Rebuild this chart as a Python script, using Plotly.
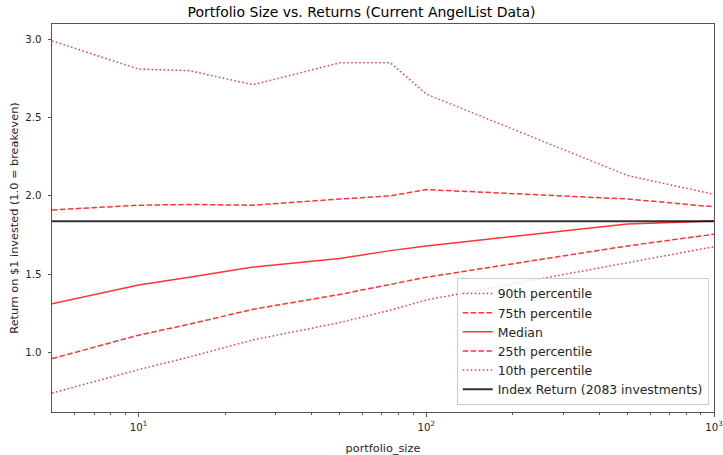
import plotly.graph_objects as go

portfolio_size = [5, 10, 15, 25, 50, 75, 100, 500, 1000]
p90 = [2.99, 2.81, 2.80, 2.71, 2.85, 2.85, 2.65, 2.13, 2.01]
p75 = [1.91, 1.94, 1.945, 1.94, 1.98, 2.00, 2.04, 1.98, 1.93]
median = [1.31, 1.43, 1.48, 1.545, 1.60, 1.65, 1.68, 1.82, 1.84]
p25 = [0.96, 1.11, 1.18, 1.275, 1.37, 1.435, 1.48, 1.68, 1.755]
p10 = [0.74, 0.89, 0.97, 1.08, 1.19, 1.27, 1.335, 1.575, 1.675]
index_return = 1.838
index_label = "Index Return (2083 investments)"

x_tickvals = [10, 100, 1000]
x_ticktext = ["10<sup>1</sup>", "10<sup>2</sup>", "10<sup>3</sup>"]
x_minor_vals = [6, 7, 8, 9, 20, 30, 40, 50, 60, 70, 80, 90,
                200, 300, 400, 500, 600, 700, 800, 900]
y_tickvals = [1.0, 1.5, 2.0, 2.5, 3.0]

series = [
    ("90th percentile", p90, "1.5px,2.5px"),
    ("75th percentile", p75, "5.5px,2.4px"),
    ("Median", median, "solid"),
    ("25th percentile", p25, "5.5px,2.4px"),
    ("10th percentile", p10, "1.5px,2.5px"),
]

RED = "rgba(255,0,0,0.8)"
FONT = "DejaVu Sans"
TXT = "#262626"

fig = go.Figure()
for name, vals, dash in series:
    fig.add_trace(go.Scatter(
        x=portfolio_size, y=vals, mode="lines", name=name,
        line=dict(color=RED, width=1.5, dash=dash),
    ))
fig.add_trace(go.Scatter(
    x=[portfolio_size[0], portfolio_size[-1]], y=[index_return, index_return],
    mode="lines", name=index_label,
    line=dict(color="rgba(0,0,0,0.8)", width=2),
))

axis_common = dict(
    showline=True, linecolor="#555", linewidth=1, mirror=True,
    showgrid=False, zeroline=False, ticks="outside", ticklen=3.5,
    tickcolor="#555", tickfont=dict(family=FONT, size=10.2, color=TXT),
    automargin=False,
)

fig.update_layout(
    width=723, height=455,
    paper_bgcolor="white", plot_bgcolor="white",
    margin=dict(l=52, r=9, t=24, b=43),
    title=dict(text="Portfolio Size vs. Returns (Current AngelList Data)",
               x=0.5, xanchor="center", y=0.974, yanchor="middle",
               font=dict(family=FONT, size=14, color="black")),
    font=dict(family=FONT, size=11.3, color=TXT),
    xaxis=dict(
        type="log", range=[0.69897, 3.0],
        tickvals=x_tickvals, ticktext=x_ticktext, ticklabelstandoff=2,
        title=dict(text="portfolio_size", font=dict(family=FONT, size=11.3, color=TXT)),
        minor=dict(ticks="outside", ticklen=2, tickcolor="#555",
                   tickmode="array", tickvals=x_minor_vals, showgrid=False),
        **axis_common,
    ),
    yaxis=dict(
        range=[0.619, 3.098],
        tickvals=y_tickvals, tickformat=".1f", ticklabelstandoff=4,
        title=dict(text="Return on $1 invested (1.0 = breakeven)",
                   font=dict(family=FONT, size=11.3, color=TXT), standoff=4),
        **axis_common,
    ),
    legend=dict(
        x=0.992, y=0.018, xanchor="right", yanchor="bottom",
        bgcolor="rgba(255,255,255,0.8)", bordercolor="#ccc", borderwidth=1,
        font=dict(family=FONT, size=12.4, color=TXT),
        tracegroupgap=0,
    ),
    showlegend=True,
)

fig.write_html("out.html", config={"displayModeBar": False},
               post_script="document.body.style.margin='0';document.body.style.padding='0';")
